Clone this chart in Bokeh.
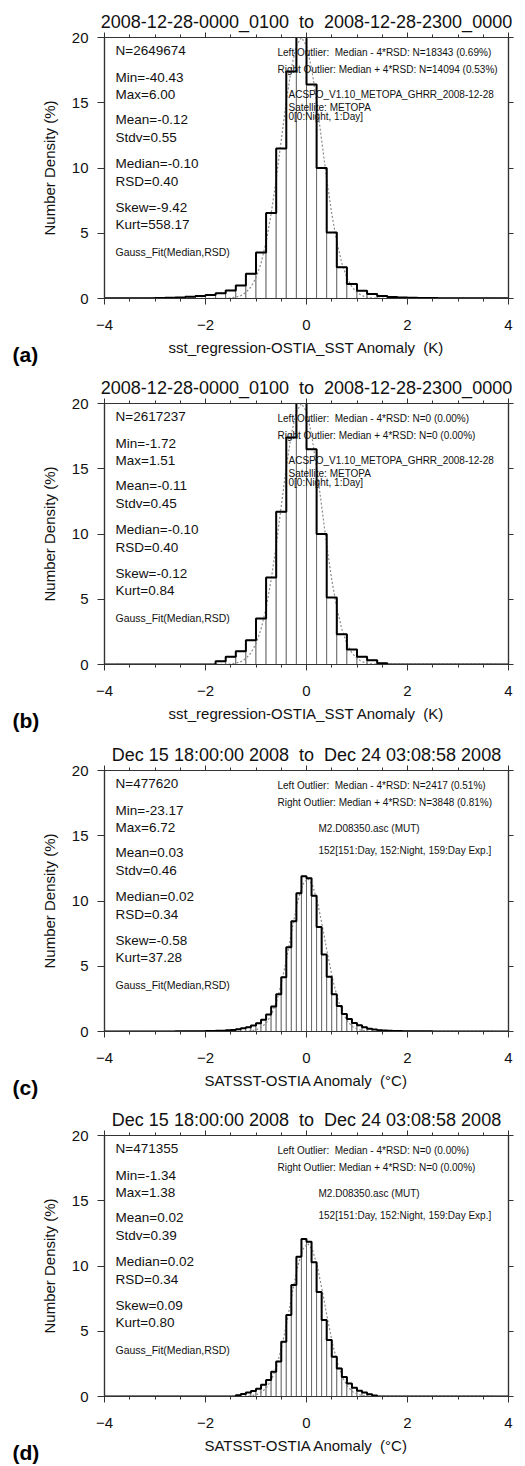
import numpy as np
from bokeh.plotting import figure
from bokeh.models import Range1d, LinearAxis, FixedTicker, Label, Title
from bokeh.layouts import column
from bokeh.embed import file_html
from bokeh.resources import INLINE

NB = "\u00a0"
# ---------------- data ----------------
titles = ["2008-12-28-0000_0100 " + NB + "to" + NB + " 2008-12-28-2300_0000",
          "2008-12-28-0000_0100 " + NB + "to" + NB + " 2008-12-28-2300_0000",
          "Dec 15 18:00:00 2008 " + NB + "to" + NB + " Dec 24 03:08:58 2008",
          "Dec 15 18:00:00 2008 " + NB + "to" + NB + " Dec 24 03:08:58 2008"]
xlabels = ["sst_regression-OSTIA_SST Anomaly " + NB + "(K)",
           "sst_regression-OSTIA_SST Anomaly " + NB + "(K)",
           "SATSST-OSTIA Anomaly " + NB + "(\u00b0C)",
           "SATSST-OSTIA Anomaly " + NB + "(\u00b0C)"]
ylabel = "Number Density (%)"
tags = ["(a)", "(b)", "(c)", "(d)"]
x_ticks = [-4, -2, 0, 2, 4]
y_ticks = [0, 5, 10, 15, 20]

bin_start = -4.0
bin_width_ab = 0.2
bin_width_cd = 0.1

hist_a = [0.01, 0.01, 0.01, 0.015, 0.02, 0.03, 0.05, 0.08, 0.14, 0.2,
          0.27, 0.4, 0.62, 1.0, 1.89, 3.52, 6.55, 11.5, 17.4, 22.0,
          16.4, 10.0, 5.05, 2.4, 1.12, 0.6, 0.35, 0.2, 0.12, 0.08,
          0.05, 0.04, 0.03, 0.02, 0.02, 0.015, 0.01, 0.01, 0.01, 0.01]
hist_b = [0, 0, 0, 0, 0, 0, 0, 0, 0, 0,
          0, 0.25, 0.59, 1.02, 1.86, 3.52, 6.67, 11.7, 17.4, 22.5,
          16.5, 10.0, 5.13, 2.32, 1.15, 0.59, 0.33, 0.1, 0, 0,
          0, 0, 0, 0, 0, 0, 0, 0, 0, 0]
hist_c = [0.003, 0.003, 0.004, 0.004, 0.004, 0.005, 0.005, 0.005, 0.006, 0.006,
          0.007, 0.007, 0.008, 0.009, 0.01, 0.012, 0.014, 0.017, 0.021, 0.026,
          0.032, 0.04, 0.05, 0.065,
          0.09, 0.12, 0.17, 0.24, 0.33, 0.46, 0.64, 0.9, 1.3, 1.92,
          2.85, 4.15, 6.45, 8.45, 10.6, 11.9, 11.75, 10.4, 8.0, 5.9,
          4.2, 2.85, 1.95, 1.35, 0.95, 0.65, 0.47, 0.33, 0.22, 0.15,
          0.1, 0.07,
          0.05, 0.04, 0.032, 0.026, 0.021, 0.017, 0.014, 0.012, 0.01, 0.009,
          0.008, 0.007, 0.006, 0.006, 0.005, 0.005, 0.005, 0.004, 0.004, 0.004,
          0.003, 0.003, 0.003, 0.003]
hist_d = [0] * 26 + [0.1, 0.2, 0.3, 0.42, 0.6, 0.9, 1.27, 1.9, 2.68, 4.2,
                     6.25, 8.54, 10.7, 12.06, 11.85, 10.28, 8.0, 5.86, 4.33, 3.05,
                     2.15, 1.5, 1.0, 0.68, 0.45, 0.3, 0.18, 0.08] + [0] * 26

fit_x_ab = [-4.0, -1.6, -1.5, -1.4, -1.3, -1.2, -1.1, -1.0, -0.9, -0.8, -0.7,
            -0.6, -0.5, -0.4, -0.3, -0.2, -0.1, 0.0, 0.1, 0.2, 0.3, 0.4, 0.5,
            0.6, 0.7, 0.8, 0.9, 1.0, 1.1, 1.2, 1.3, 1.4, 4.0]
fit_y_ab = [0.0, 0.02, 0.04, 0.10, 0.22, 0.46, 0.88, 1.59, 2.71, 4.33, 6.49,
            9.16, 12.13, 15.1, 17.65, 19.38, 20.0, 19.38, 17.65, 15.1, 12.13,
            9.16, 6.49, 4.33, 2.71, 1.59, 0.88, 0.46, 0.22, 0.10, 0.04, 0.02, 0.0]
fit_x_cd = [-4.0, -1.18, -1.08, -0.98, -0.88, -0.78, -0.68, -0.58, -0.48, -0.38,
            -0.28, -0.18, -0.08, 0.02, 0.12, 0.22, 0.32, 0.42, 0.52, 0.62, 0.72,
            0.82, 0.92, 1.02, 1.12, 1.22, 4.0]
fit_y_cd = [0.0, 0.02, 0.06, 0.155, 0.35, 0.74, 1.41, 2.47, 3.98, 5.87, 7.95,
            9.87, 11.23, 11.73, 11.23, 9.87, 7.95, 5.87, 3.98, 2.47, 1.41, 0.74,
            0.35, 0.155, 0.06, 0.02, 0.0]

stats_a = ["N=2649674", "Min=-40.43", "Max=6.00", "Mean=-0.12", "Stdv=0.55",
           "Median=-0.10", "RSD=0.40", "Skew=-9.42", "Kurt=558.17"]
stats_b = ["N=2617237", "Min=-1.72", "Max=1.51", "Mean=-0.11", "Stdv=0.45",
           "Median=-0.10", "RSD=0.40", "Skew=-0.12", "Kurt=0.84"]
stats_c = ["N=477620", "Min=-23.17", "Max=6.72", "Mean=0.03", "Stdv=0.46",
           "Median=0.02", "RSD=0.34", "Skew=-0.58", "Kurt=37.28"]
stats_d = ["N=471355", "Min=-1.34", "Max=1.38", "Mean=0.02", "Stdv=0.39",
           "Median=0.02", "RSD=0.34", "Skew=0.09", "Kurt=0.80"]
fit_note = "Gauss_Fit(Median,RSD)"

outl_a = ["Left Outlier: " + NB + "Median - 4*RSD: N=18343 (0.69%)",
          "Right Outlier: Median + 4*RSD: N=14094 (0.53%)"]
outl_b = ["Left Outlier: " + NB + "Median - 4*RSD: N=0 (0.00%)",
          "Right Outlier: Median + 4*RSD: N=0 (0.00%)"]
outl_c = ["Left Outlier: " + NB + "Median - 4*RSD: N=2417 (0.51%)",
          "Right Outlier: Median + 4*RSD: N=3848 (0.81%)"]
outl_d = ["Left Outlier: " + NB + "Median - 4*RSD: N=0 (0.00%)",
          "Right Outlier: Median + 4*RSD: N=0 (0.00%)"]
info_ab = ["ACSPO_V1.10_METOPA_GHRR_2008-12-28", "Satellite: METOPA", "0[0:Night, 1:Day]"]
info_cd = ["M2.D08350.asc (MUT)", "152[151:Day, 152:Night, 159:Day Exp.]"]

# ---------------- layout constants ----------------
FONT = "Liberation Sans"
FW, FH = 404, 261          # frame size in px
PPU_Y = FH / 20.0
PPU_X = FW / 8.0
AX = "#333333"


def ydata(dy):
    return 20.0 - dy / PPU_Y


def xdata(dx):
    return -4.0 + dx / PPU_X


def make_panel(i, hist, bw, fx, fy, stats, outl, info, info_dx, info_dy, h, btop):
    p = figure(width=525, height=h, x_range=Range1d(-4, 4), y_range=Range1d(0, 20),
               output_backend="svg", toolbar_location=None, title=None,
               x_axis_location=None, y_axis_location=None,
               min_border_left=104, min_border_right=525 - 104 - FW, min_border_top=btop,
               min_border_bottom=h - btop - FH)
    p.grid.visible = False
    p.outline_line_color = AX
    p.outline_line_width = 1.2
    p.background_fill_color = "white"

    xt = FixedTicker(ticks=x_ticks, minor_ticks=list(np.arange(-4, 4.01, 0.5)))
    yt = FixedTicker(ticks=y_ticks, minor_ticks=[])
    for loc in ["below", "above", "left", "right"]:
        ax = LinearAxis(ticker=xt if loc in ("below", "above") else yt)
        ax.axis_line_color = AX
        ax.axis_line_width = 1.2
        ax.major_tick_line_color = AX
        ax.minor_tick_line_color = AX
        ax.major_tick_in = 0
        ax.minor_tick_in = 0
        ax.major_tick_out = 6 if loc in ("below", "above") else 7
        ax.minor_tick_out = 3
        ax.major_label_text_font = FONT
        ax.major_label_text_font_size = "15px"
        ax.major_label_text_color = "#111111"
        ax.axis_label_text_font = FONT
        ax.axis_label_text_font_size = "15px"
        ax.axis_label_text_font_style = "normal"
        ax.axis_label_text_color = "#111111"
        if loc == "below":
            ax.axis_label = xlabels[i]
            ax.major_label_standoff = 15
            ax.axis_label_standoff = 6
        elif loc == "left":
            ax.axis_label = ylabel
            ax.major_label_standoff = 9
            ax.axis_label_standoff = 11
        else:
            ax.major_label_text_font_size = "1px"
            ax.major_label_text_color = None
            ax.major_label_text_alpha = 0
            ax.major_label_standoff = 0
            ax.major_tick_out = 5
            ax.minor_tick_out = 3
        p.add_layout(ax, loc)

    # title (outside the frame, above the top axis)
    p.add_layout(Title(text=titles[i], align="center", text_font=FONT,
                       text_font_size="18px", text_font_style="normal",
                       text_color="#111111", standoff=1), "above")
    # panel tag, bottom-left
    p.add_layout(Title(text=tags[i], align="left", offset=-92, vertical_align="top",
                       standoff=-32, text_font=FONT, text_font_size="21px",
                       text_font_style="bold", text_color="#000000"), "below")

    edges = bin_start + bw * np.arange(len(hist) + 1)
    p.quad(left=edges[:-1], right=edges[1:], bottom=0, top=hist,
           fill_color="white", line_color="#555555", line_width=0.8)
    p.line(fx, fy, line_color="#8a8a8a", line_dash="2 2", line_width=1.2)
    p.step(list(edges), list(hist) + [0], mode="after", line_color="black", line_width=2)

    # stats
    stat_dy = [13.3, 40.3, 57.3, 82.3, 100.3, 126.3, 144.3, 170.3, 187.3]
    for s, dy in zip(stats, stat_dy):
        p.add_layout(Label(x=xdata(11), y=ydata(dy), text=s, text_align="left",
                           text_baseline="middle", text_font=FONT,
                           text_font_size="13.5px", text_color="#111111"))
    p.add_layout(Label(x=xdata(11), y=ydata(214.3), text=fit_note, text_align="left",
                       text_baseline="middle", text_font=FONT,
                       text_font_size="10.5px", text_color="#111111"))
    for s, dy in zip(outl, [15.0, 31.5]):
        p.add_layout(Label(x=xdata(173), y=ydata(dy), text=s, text_align="left",
                           text_baseline="middle", text_font=FONT,
                           text_font_size="10px", text_color="#111111"))
    for s, dy in zip(info, info_dy):
        p.add_layout(Label(x=xdata(info_dx), y=ydata(dy), text=s, text_align="left",
                           text_baseline="middle", text_font=FONT,
                           text_font_size="10px", text_color="#111111"))
    return p


pa = make_panel(0, hist_a, bin_width_ab, fit_x_ab, fit_y_ab, stats_a, outl_a,
                info_ab, 184, [57.3, 70.0, 78.5], 370, 37)
pb = make_panel(1, hist_b, bin_width_ab, fit_x_ab, fit_y_ab, stats_b, outl_b,
                info_ab, 184, [57.0, 70.0, 79.0], 366, 33)
pc = make_panel(2, hist_c, bin_width_cd, fit_x_cd, fit_y_cd, stats_c, outl_c,
                info_cd, 214, [57.5, 79.5], 365, 34)
pd_ = make_panel(3, hist_d, bin_width_cd, fit_x_cd, fit_y_cd, stats_d, outl_d,
                 info_cd, 214, [57.5, 79.5], 365, 34)

layout = column(pa, pb, pc, pd_, spacing=0)
open("out.html", "w").write(file_html(layout, INLINE))
